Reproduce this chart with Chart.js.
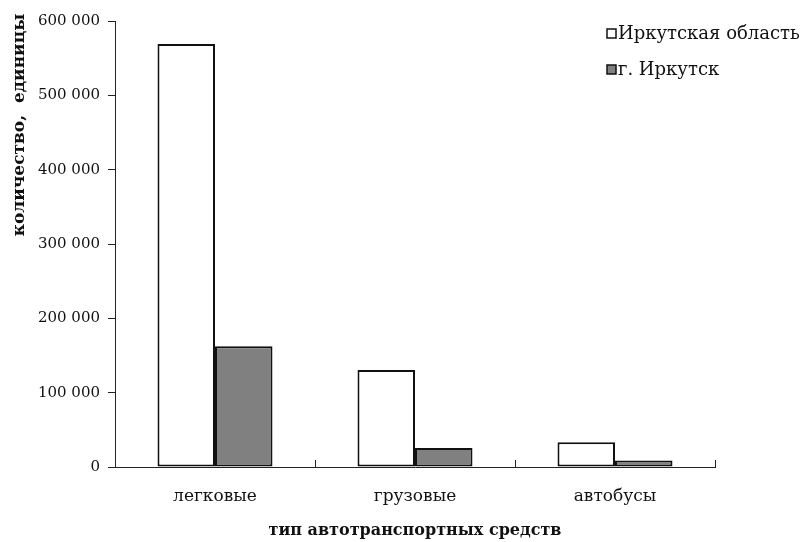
<!DOCTYPE html>
<html>
<head>
<meta charset="utf-8">
<script src="https://cdn.jsdelivr.net/npm/chart.js@4"></script>
<style>
  html, body { margin: 0; padding: 0; background: #fff; }
  #wrap { width: 801px; height: 542px; }
</style>
</head>
<body>
<div id="wrap"><canvas id="transportChart" width="801" height="542"></canvas></div>
<script>
// Data
const categories = ['легковые', 'грузовые', 'автобусы'];
const regionValues = [569000, 130500, 33300];
const cityValues = [162500, 25500, 8600];
const seriesNames = ['Иркутская область', 'г. Иркутск'];
const yTicks = [0, 100000, 200000, 300000, 400000, 500000, 600000];
const yTitle = 'количество,  единицы';

const FONT = "'DejaVu Serif', 'Liberation Serif', serif";

function fmt(v) {
    return String(v).replace(/\B(?=(\d{3})+(?!\d))/g, ' ');
}

// small upward ticks between categories on the x axis
const xTickPlugin = {
    id: 'xTicks',
    afterDraw(chart) {
        const ctx = chart.ctx;
        const x = chart.scales.x;
        const y0 = x.top;
        ctx.save();
        ctx.strokeStyle = '#222';
        ctx.lineWidth = 1;
        for (let i = 0; i < categories.length; i++) {
            let px;
            if (i < categories.length - 1) {
                px = (x.getPixelForValue(i) + x.getPixelForValue(i + 1)) / 2;
            } else {
                px = x.right;
            }
            px = Math.round(px) + 0.5;
            ctx.beginPath();
            ctx.moveTo(px, y0);
            ctx.lineTo(px, y0 - 7);
            ctx.stroke();
        }
        ctx.restore();
    }
};

// y axis title, sits a bit above the plot top like in the original
const yTitlePlugin = {
    id: 'yTitle',
    afterDraw(chart) {
        const ctx = chart.ctx;
        ctx.save();
        ctx.translate(20, 125);
        ctx.rotate(-Math.PI / 2);
        ctx.font = 'bold 17px ' + FONT;
        ctx.textAlign = 'center';
        ctx.textBaseline = 'middle';
        ctx.fillStyle = '#111';
        ctx.fillText(yTitle, 0, 0);
        ctx.restore();
    }
};

// legend in the top right corner
const legendPlugin = {
    id: 'cornerLegend',
    afterDraw(chart) {
        const ctx = chart.ctx;
        ctx.save();
        ctx.font = '18px ' + FONT;
        ctx.textBaseline = 'middle';
        chart.data.datasets.forEach((ds, i) => {
            const by = 29 + i * 36;
            ctx.fillStyle = ds.backgroundColor;
            ctx.fillRect(607, by, 9, 9);
            ctx.strokeStyle = '#111';
            ctx.lineWidth = 1.5;
            ctx.strokeRect(607, by, 9, 9);
            ctx.fillStyle = '#111';
            ctx.fillText(ds.label, 618, by + 5);
        });
        ctx.restore();
    }
};

const ctx = document.getElementById('transportChart').getContext('2d');
const chart = new Chart(ctx, {
    type: 'bar',
    data: {
        labels: categories,
        datasets: [
            {
                label: seriesNames[0],
                data: regionValues,
                backgroundColor: '#ffffff',
                borderColor: '#111',
                borderWidth: 2,
                borderSkipped: false
            },
            {
                label: seriesNames[1],
                data: cityValues,
                backgroundColor: '#808080',
                borderColor: '#111',
                borderWidth: 2,
                borderSkipped: false
            }
        ]
    },
    options: {
        responsive: false,
        animation: false,
        categoryPercentage: 0.575,
        barPercentage: 1,
        layout: { padding: { top: 21, right: 86, left: 0, bottom: 0 } },
        plugins: {
            legend: { display: false },
            tooltip: { enabled: false }
        },
        scales: {
            x: {
                afterFit(s) { s.height = 75; },
                grid: { display: false, drawTicks: false },
                border: { display: true, color: '#222', width: 1 },
                ticks: {
                    color: '#111',
                    padding: 19,
                    font: { family: FONT, size: 17 }
                },
                title: {
                    display: true,
                    text: 'тип автотранспортных средств',
                    color: '#111',
                    font: { family: FONT, size: 16, weight: 'bold' },
                    padding: { top: 0, bottom: 2 }
                }
            },
            y: {
                min: 0,
                max: 600000,
                afterFit(s) { s.width = 115; },
                afterBuildTicks(s) { s.ticks = yTicks.map(v => ({ value: v })); },
                grid: { drawOnChartArea: false, tickLength: 7, color: '#222' },
                border: { display: true, color: '#222', width: 1 },
                ticks: {
                    color: '#111',
                    padding: 8,
                    font: { family: FONT, size: 15 },
                    callback: (v) => fmt(v)
                }
            }
        }
    },
    plugins: [xTickPlugin, yTitlePlugin, legendPlugin]
});
</script>
</body>
</html>
